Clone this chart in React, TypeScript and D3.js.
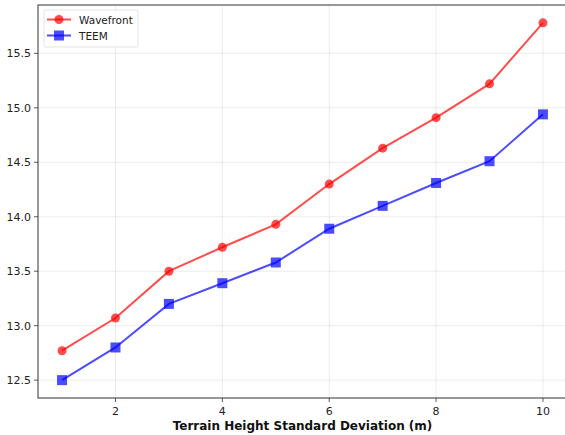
import React from "react";
import * as d3 from "d3";

const xValues = [1, 2, 3, 4, 5, 6, 7, 8, 9, 10];
const wavefront = [12.77, 13.07, 13.5, 13.72, 13.93, 14.3, 14.63, 14.91, 15.22, 15.78];
const teem = [12.5, 12.8, 13.2, 13.39, 13.58, 13.89, 14.1, 14.31, 14.51, 14.94];
const xTicks = [2, 4, 6, 8, 10];
const yTicks = [12.5, 13.0, 13.5, 14.0, 14.5, 15.0, 15.5];
const seriesNames = ["Wavefront", "TEEM"];

const W = 565;
const H = 435;
const margin = { left: 38, right: -2, top: 5, bottom: 37 };

export default function App() {
  const x = d3.scaleLinear().domain([0.55, 10.45]).range([margin.left, W - margin.right]);
  const y = d3.scaleLinear().domain([12.336, 15.944]).range([H - margin.bottom, margin.top]);
  const line = d3
    .line<number>()
    .x((_, i) => x(xValues[i]))
    .y((d) => y(d));
  const red = "rgba(255,0,0,0.7)";
  const blue = "rgba(0,0,255,0.7)";
  const font = "DejaVu Sans, sans-serif";
  const x0 = margin.left;
  const x1 = W - margin.right;
  const y0 = H - margin.bottom;
  const y1 = margin.top;
  return (
    <div style={{ position: "absolute", left: 0, top: 0 }}>
      <svg width={W} height={H} style={{ display: "block", background: "#fff" }} fontFamily={font}>
        {/* grid */}
        {xTicks.map((t) => (
          <line key={"gx" + t} x1={x(t)} x2={x(t)} y1={y0} y2={y1} stroke="#b0b0b0" strokeOpacity={0.3} strokeWidth={0.8} />
        ))}
        {yTicks.map((t) => (
          <line key={"gy" + t} x1={x0} x2={x1} y1={y(t)} y2={y(t)} stroke="#b0b0b0" strokeOpacity={0.3} strokeWidth={0.8} />
        ))}
        {/* lines */}
        <path d={line(wavefront) || ""} fill="none" stroke={red} strokeWidth={2} />
        {wavefront.map((v, i) => (
          <circle key={"w" + i} cx={x(xValues[i])} cy={y(v)} r={4.5} fill={red} stroke="none" />
        ))}
        <path d={line(teem) || ""} fill="none" stroke={blue} strokeWidth={2} />
        {teem.map((v, i) => (
          <rect key={"t" + i} x={x(xValues[i]) - 5} y={y(v) - 5} width={10} height={10} fill={blue} />
        ))}
        {/* spines */}
        <rect x={x0} y={y1} width={x1 - x0} height={y0 - y1} fill="none" stroke="#333" strokeWidth={1} />
        {/* ticks */}
        {xTicks.map((t) => (
          <g key={"tx" + t}>
            <line x1={x(t)} x2={x(t)} y1={y0} y2={y0 + 4} stroke="#333" strokeWidth={0.8} />
            <text x={x(t)} y={y0 + 17} textAnchor="middle" fontSize={11} fill="#222">
              {t}
            </text>
          </g>
        ))}
        {yTicks.map((t) => (
          <g key={"ty" + t}>
            <line x1={x0 - 4} x2={x0} y1={y(t)} y2={y(t)} stroke="#333" strokeWidth={0.8} />
            <text x={x0 - 7} y={y(t) + 4} textAnchor="end" fontSize={11} fill="#222">
              {t.toFixed(1)}
            </text>
          </g>
        ))}
        <text x={(x0 + x1) / 2} y={y0 + 32} textAnchor="middle" fontSize={12} fontWeight="bold" fill="#111">
          Terrain Height Standard Deviation (m)
        </text>
        {/* legend */}
        <g>
          <rect x={44} y={10} width={94} height={37} rx={2} fill="#fff" fillOpacity={0.8} stroke="#ddd" strokeWidth={0.8} />
          <line x1={47} x2={71} y1={19.5} y2={19.5} stroke={red} strokeWidth={2} />
          <circle cx={59} cy={19.5} r={4.5} fill={red} />
          <text x={79} y={23.5} fontSize={10.5} fill="#222">
            {seriesNames[0]}
          </text>
          <line x1={47} x2={71} y1={35.5} y2={35.5} stroke={blue} strokeWidth={2} />
          <rect x={54} y={30.5} width={10} height={10} fill={blue} />
          <text x={79} y={39.5} fontSize={10.5} fill="#222">
            {seriesNames[1]}
          </text>
        </g>
      </svg>
    </div>
  );
}
